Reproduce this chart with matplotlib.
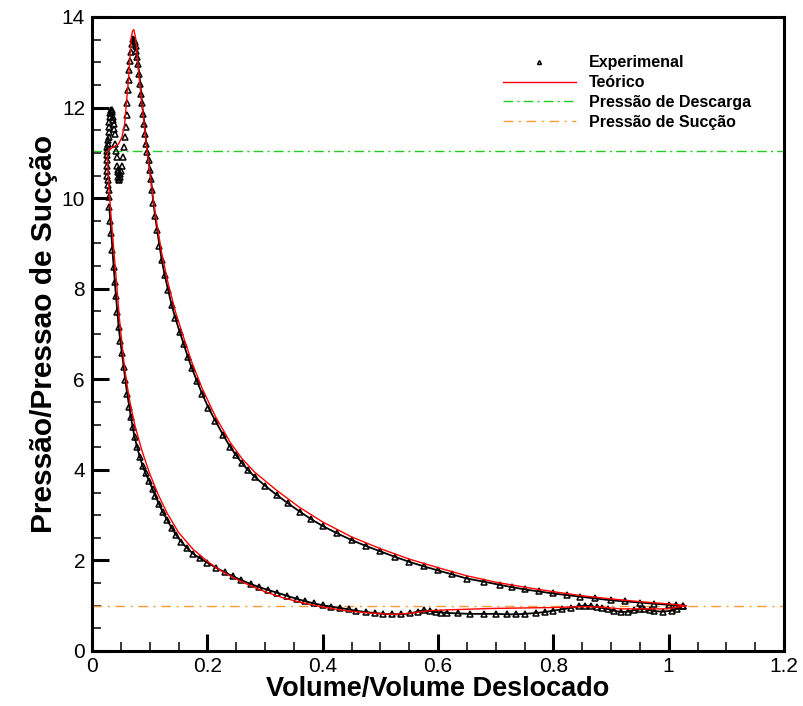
import matplotlib
matplotlib.use("Agg")
import matplotlib.pyplot as plt
from matplotlib.ticker import MultipleLocator

# ========================
# DADOS
# ========================

# experimental - compressao (ramo superior ate o pico)
v_comp = [1.025, 1.012, 1.0, 0.975, 0.95, 0.925, 0.9, 0.873, 0.846, 0.823, 0.8, 0.775,
          0.75, 0.728, 0.7075, 0.68, 0.65, 0.625, 0.6, 0.575, 0.55, 0.525, 0.5, 0.475,
          0.45, 0.425, 0.4, 0.38, 0.36, 0.34, 0.32, 0.3, 0.282, 0.27, 0.26, 0.25, 0.24,
          0.227, 0.214, 0.202, 0.191, 0.182, 0.173, 0.166, 0.159, 0.152, 0.1445, 0.138,
          0.132, 0.126, 0.121, 0.117, 0.113, 0.1095, 0.1065, 0.104, 0.1023, 0.1003,
          0.0983, 0.096, 0.0942, 0.0925, 0.0908, 0.0888, 0.0867, 0.0852, 0.0838, 0.0818,
          0.0798, 0.0783, 0.0769, 0.0755, 0.074, 0.0723, 0.071]
p_comp = [1.00, 1.01, 1.02, 1.045, 1.07, 1.095, 1.12, 1.16, 1.20, 1.235, 1.27, 1.315,
          1.36, 1.41, 1.46, 1.53, 1.60, 1.69, 1.78, 1.87, 1.97, 2.08, 2.20, 2.32,
          2.45, 2.60, 2.76, 2.91, 3.08, 3.26, 3.45, 3.65, 3.85, 4.00, 4.15, 4.32, 4.50,
          4.78, 5.08, 5.37, 5.68, 5.96, 6.25, 6.50, 6.78, 7.05, 7.35, 7.65,
          7.97, 8.30, 8.63, 8.95, 9.30, 9.60, 9.90, 10.18, 10.43, 10.63,
          10.84, 11.02, 11.20, 11.42, 11.64, 11.86, 12.09, 12.31, 12.53, 12.75,
          12.97, 13.12, 13.26, 13.36, 13.45, 13.50, 13.52]

# experimental - descarga / oscilacao da valvula
v_osc = [0.0694, 0.0676, 0.066, 0.0647, 0.0635, 0.0624, 0.0612, 0.0601, 0.059, 0.057,
         0.0549, 0.0532, 0.052, 0.050, 0.0491, 0.048, 0.047, 0.0462, 0.0455, 0.0451,
         0.0445, 0.0434, 0.0425, 0.0416, 0.0405, 0.0393, 0.0385, 0.0376, 0.0365,
         0.0358, 0.0347, 0.034, 0.033, 0.032, 0.0306, 0.0302, 0.030, 0.0295, 0.0289,
         0.028, 0.0272, 0.0265, 0.026, 0.0256, 0.0254, 0.0256, 0.026, 0.0265, 0.0272,
         0.028, 0.0289, 0.0295]
p_osc = [13.41, 13.23, 13.02, 12.82, 12.60, 12.38, 12.10, 11.83, 11.57, 11.35,
         11.13, 10.91, 10.72, 10.60, 10.54, 10.47, 10.40, 10.43, 10.46, 10.57,
         10.63, 10.72, 10.90, 11.05, 11.20, 11.42, 11.52, 11.64, 11.72,
         11.79, 11.90, 11.94, 11.94, 11.88, 11.79, 11.68, 11.57, 11.46, 11.35,
         11.28, 11.20, 11.12, 11.05, 10.95, 10.84, 10.72, 10.61, 10.50, 10.39,
         10.28, 10.17, 10.02]

# experimental - expansao e succao (ramo inferior)
v_expa = [0.030, 0.0318, 0.0335, 0.0355, 0.0376, 0.0396, 0.0416, 0.044, 0.0462, 0.049,
          0.052, 0.055, 0.0578, 0.061, 0.0647, 0.0675, 0.0705, 0.074, 0.078, 0.083,
          0.088, 0.093, 0.099, 0.105, 0.11, 0.116, 0.123, 0.13, 0.138, 0.146, 0.155,
          0.165, 0.175, 0.187, 0.2, 0.215, 0.23, 0.244, 0.258, 0.275, 0.29, 0.305,
          0.32, 0.338, 0.355, 0.37, 0.385, 0.4, 0.415, 0.43, 0.445, 0.457, 0.475,
          0.49, 0.505, 0.52, 0.535, 0.552, 0.565, 0.576, 0.586, 0.596, 0.606, 0.616,
          0.635, 0.656, 0.68, 0.7, 0.72, 0.735, 0.75, 0.77, 0.785, 0.8, 0.815, 0.83,
          0.845, 0.855, 0.865, 0.875, 0.885, 0.894, 0.905, 0.918, 0.93, 0.94, 0.95,
          0.958, 0.967, 0.975, 0.99, 1.005, 1.015, 1.025]
p_expa = [9.80, 9.50, 9.22, 8.85, 8.49, 8.15, 7.83, 7.48, 7.16, 6.85,
          6.57, 6.27, 5.98, 5.68, 5.39, 5.16, 4.95, 4.72, 4.51, 4.28,
          4.08, 3.92, 3.76, 3.57, 3.42, 3.25, 3.06, 2.90, 2.72, 2.56, 2.41,
          2.27, 2.15, 2.05, 1.95, 1.84, 1.74, 1.65, 1.57, 1.48, 1.41, 1.35,
          1.29, 1.22, 1.15, 1.10, 1.05, 1.01, 0.98, 0.95, 0.92, 0.89, 0.86,
          0.84, 0.82, 0.81, 0.81, 0.83, 0.87, 0.90, 0.88, 0.86, 0.85, 0.84,
          0.83, 0.82, 0.82, 0.82, 0.81, 0.81, 0.82, 0.84, 0.86, 0.89, 0.92, 0.95,
          0.99, 1.00, 0.99, 0.97, 0.95, 0.93, 0.89, 0.86, 0.87, 0.90, 0.92,
          0.93, 0.90, 0.88, 0.87, 0.89, 0.93, 1.00]

# teorico
v_teo = [1.03, 1.0, 0.95, 0.9, 0.85, 0.8, 0.75, 0.7, 0.65, 0.6, 0.55, 0.5, 0.45, 0.4,
         0.36, 0.32, 0.282, 0.26, 0.24, 0.214, 0.191, 0.173, 0.159, 0.1445, 0.132,
         0.121, 0.113, 0.1065, 0.1015, 0.0954, 0.0908, 0.0867, 0.082, 0.078, 0.0755,
         0.0725, 0.0705, 0.068, 0.0636, 0.0595, 0.0566, 0.052, 0.0462, 0.0376, 0.0289,
         0.0266, 0.027, 0.0285, 0.031, 0.034, 0.0375, 0.0405, 0.044, 0.0475, 0.052,
         0.0565, 0.062, 0.0665, 0.075, 0.0867, 0.1, 0.115, 0.13, 0.15, 0.175, 0.2,
         0.225, 0.25, 0.275, 0.3, 0.33, 0.36, 0.4, 0.44, 0.48, 0.52, 0.55, 0.584,
         0.62, 0.695, 0.8, 0.855, 0.88, 0.918, 0.96, 0.998, 1.03]
p_teo = [1.00, 1.04, 1.09, 1.15, 1.22, 1.31, 1.41, 1.52, 1.66, 1.84, 2.03, 2.26, 2.52, 2.85,
         3.17, 3.55, 3.95, 4.25, 4.60, 5.18, 5.80, 6.38, 6.92, 7.50, 8.12,
         8.78, 9.40, 9.95, 10.45, 11.05, 11.60, 12.09, 12.65, 13.19, 13.55,
         13.72, 13.70, 13.55, 12.67, 12.08, 11.64, 11.35, 11.20, 11.13, 11.07,
         11.02, 10.80, 10.40, 9.95, 9.45, 8.90, 8.45, 7.90, 7.35, 6.78,
         6.25, 5.78, 5.45, 4.95, 4.42, 3.92, 3.45, 3.05, 2.62, 2.25, 1.98,
         1.76, 1.59, 1.44, 1.31, 1.18, 1.08, 0.97, 0.89, 0.84, 0.81, 0.83, 0.89,
         0.91, 0.94, 0.96, 0.98, 0.97, 0.93, 0.93, 0.93, 1.00]

p_descarga = 11.03
p_succao = 1.0

# ========================
# GRAFICO
# ========================

plt.rcParams["font.family"] = ["Liberation Sans", "DejaVu Sans"]

fig = plt.figure(figsize=(8.04, 7.06), dpi=100)
ax = fig.add_axes([92 / 804, 1 - 651 / 706, (784 - 92) / 804, (651 - 17) / 706])

marker_style = dict(linestyle="none", marker="^", markersize=4, markerfacecolor="none",
                    markeredgecolor="black", markeredgewidth=1.1, zorder=3)

# faixa continua dos pontos experimentais
ax.plot(v_comp, p_comp, color="black", lw=1.3, zorder=3)
ax.plot(v_expa, p_expa, color="black", lw=1.3, zorder=3)
ax.plot(v_comp, p_comp, label="Experimenal", **marker_style)
ax.plot(v_osc, p_osc, **marker_style)
ax.plot(v_expa, p_expa, **marker_style)

ax.plot(v_teo, p_teo, color="red", lw=1.0, label="Teórico", zorder=4)
ax.axhline(p_descarga, color="#22cc22", lw=1.0, dashes=(7, 3, 1.5, 3),
           label="Pressão de Descarga", zorder=2)
ax.axhline(p_succao, color="#ff9933", lw=1.0, dashes=(7, 4, 1.5, 4),
           label="Pressão de Sucção", zorder=2)

ax.set_xlim(0, 1.2)
ax.set_ylim(0, 14)
ax.xaxis.set_minor_locator(MultipleLocator(0.05))
ax.yaxis.set_major_locator(MultipleLocator(2))
ax.yaxis.set_minor_locator(MultipleLocator(0.5))
ax.set_xticks([0, 0.2, 0.4, 0.6, 0.8, 1.0, 1.2])
ax.set_xticklabels(["0", "0.2", "0.4", "0.6", "0.8", "1", "1.2"])
ax.tick_params(which="major", direction="in", length=12, width=2.2,
               labelsize=15, pad=5)
ax.tick_params(axis="x", which="major", pad=4)
ax.tick_params(which="minor", direction="in", length=6.5, width=1.1)
for s in ax.spines.values():
    s.set_linewidth(2.2)

ax.set_xlabel("Volume/Volume Deslocado", fontsize=19.5, fontweight="bold", labelpad=0)
ax.set_ylabel("Pressão/Pressao de Sucção", fontsize=21.5, fontweight="bold", labelpad=3)

leg = ax.legend(loc="upper left", bbox_to_anchor=(0.582, 0.952), frameon=False,
                prop={"size": 11.5, "weight": "bold"}, handlelength=4.6,
                handletextpad=0.8, labelspacing=0.3, borderpad=0,
                markerscale=0.7)

fig.savefig("out.png", dpi=100)
